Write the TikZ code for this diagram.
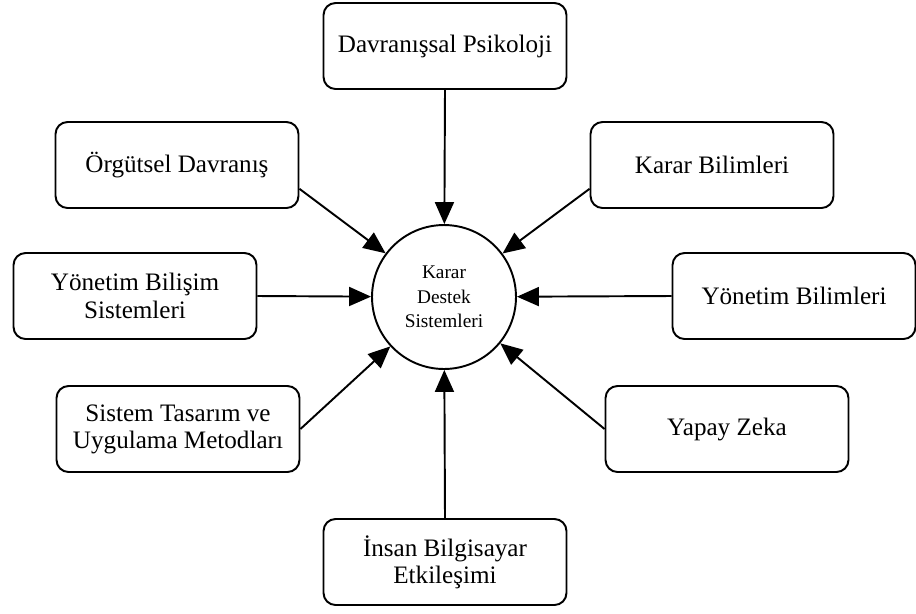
\documentclass[tikz,border=0pt]{standalone}
\usepackage{fontspec}
\setmainfont{Liberation Serif}
\usetikzlibrary{arrows.meta}

\begin{document}
\begin{tikzpicture}[x=0.02cm, y=-0.02cm]
            \tikzstyle{kutu}=[draw, rounded corners=0.24cm, line width=1.1pt,
            minimum width=4.86cm, minimum height=1.72cm, align=center,
            font=\fontsize{14.3}{15.5}\selectfont]
            \tikzstyle{merkez}=[circle, draw, line width=1.1pt, inner sep=0pt,
            minimum size=2.88cm, align=center, font=\fontsize{11}{14}\selectfont]
            \tikzstyle{ok}=[line width=1.1pt, -{Triangle[length=0.44cm, width=0.38cm]}]
            \useasboundingbox (0,0) rectangle (916,613);

            \node[merkez] (kds) at (444,297) {Karar\\Destek\\Sistemleri};

            \node[kutu] (psi) at (445,46) {Davranışsal Psikoloji};
            \node[kutu] (org) at (177,165) {Örgütsel Davranış};
            \node[kutu] (kar) at (712,165) {Karar Bilimleri};
            \node[kutu] (ybs) at (135,296) {Yönetim Bilişim\\Sistemleri};
            \node[kutu] (ybl) at (794,296) {Yönetim Bilimleri};
            \node[kutu] (sis) at (178,429) {Sistem Tasarım ve\\Uygulama Metodları};
            \node[kutu] (yap) at (727,429) {Yapay Zeka};
            \node[kutu] (ibe) at (445,562) {İnsan Bilgisayar\\Etkileşimi};

            \foreach \k in {psi.south, org.-11, kar.191, ybs.east,
                            ybl.west, sis.east, yap.west, ibe.north}
            \draw[ok] (\k) -- (kds);
        \end{tikzpicture}
\end{document}
